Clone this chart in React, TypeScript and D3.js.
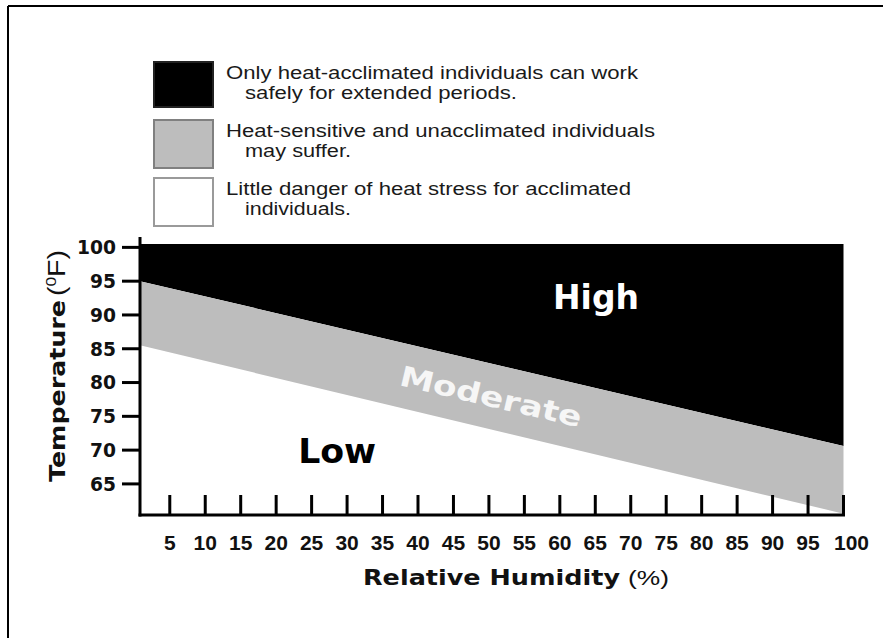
import React from "react";
import * as d3 from "d3";

// ---- data ----
const humidityTicks = [5, 10, 15, 20, 25, 30, 35, 40, 45, 50, 55, 60, 65, 70, 75, 80, 85, 90, 95, 100];
const temperatureTicks = [65, 70, 75, 80, 85, 90, 95, 100];
const boundaryHumidity = [0.8, 100];
const highModerateBoundary = [95, 70.6];
const moderateLowBoundary = [85.5, 60.6];
const humidityDomain = [0.8, 100];
const temperatureDomain = [60.4, 100.5];

const legendLabels = [
  ["Only heat-acclimated individuals can work", "safely for extended periods."],
  ["Heat-sensitive and unacclimated individuals", "may suffer."],
  ["Little danger of heat stress for acclimated", "individuals."],
];
const legendFills = ["#000000", "#bdbdbd", "#ffffff"];
const legendStrokes = ["#222222", "#808080", "#9a9a9a"];

const zoneNames = ["High", "Low"];
const zoneHumidity = [65.1, 28.6];
const zoneTemperature = [90.9, 68.05];

const BOLD = "'DejaVu Sans', Verdana, sans-serif";
const REG = "'Liberation Sans', Arial, Helvetica, sans-serif";

export default function App() {
  const W = 883;
  const H = 638;
  const x = d3.scaleLinear().domain(humidityDomain).range([140, 843.5]);
  const y = d3.scaleLinear().domain(temperatureDomain).range([515, 244]);

  const pts = boundaryHumidity.map((h, i) => ({
    h,
    up: highModerateBoundary[i],
    lo: moderateLowBoundary[i],
  }));

  const highArea = d3
    .area<any>()
    .x((d) => x(d.h))
    .y0((d) => y(d.up))
    .y1(() => y(temperatureDomain[1]));
  const modArea = d3
    .area<any>()
    .x((d) => x(d.h))
    .y0((d) => y(d.lo))
    .y1((d) => y(d.up));

  const angle =
    (Math.atan2(
      y(highModerateBoundary[1]) - y(highModerateBoundary[0]),
      x(boundaryHumidity[1]) - x(boundaryHumidity[0])
    ) *
      180) /
    Math.PI;
  const modH = 50.3;
  const frac = (modH - boundaryHumidity[0]) / (boundaryHumidity[1] - boundaryHumidity[0]);
  const upAt = highModerateBoundary[0] + (highModerateBoundary[1] - highModerateBoundary[0]) * frac;
  const loAt = moderateLowBoundary[0] + (moderateLowBoundary[1] - moderateLowBoundary[0]) * frac;
  const modX = x(modH);
  const modY = y((upAt + loAt) / 2);

  const legendTop = [62, 120, 178];
  const legendH = [45, 48, 48];
  const line1Len = [412, 429, 405];
  const line2Len = [272, 106, 106];

  return (
    <svg width={W} height={H} style={{ display: "block", position: "absolute", left: 0, top: 0 }}>
      <rect x={0} y={0} width={W} height={H} fill="#ffffff" />
      {/* outer frame (left & top) */}
      <line x1={8} y1={6} x2={W} y2={6} stroke="#000" strokeWidth={2} />
      <line x1={8} y1={6} x2={8} y2={H} stroke="#000" strokeWidth={2} />

      {/* legend */}
      {legendLabels.map((lines, i) => (
        <g key={i}>
          <rect
            x={154}
            y={legendTop[i]}
            width={59}
            height={legendH[i]}
            fill={legendFills[i]}
            stroke={legendStrokes[i]}
            strokeWidth={2}
          />
          <text
            x={226}
            y={legendTop[i] + 17}
            fontFamily={REG}
            fontSize={17.5}
            fill="#1a1a1a"
            textLength={line1Len[i]}
            lengthAdjust="spacingAndGlyphs"
          >
            {lines[0]}
          </text>
          <text
            x={245}
            y={legendTop[i] + 37}
            fontFamily={REG}
            fontSize={17.5}
            fill="#1a1a1a"
            textLength={line2Len[i]}
            lengthAdjust="spacingAndGlyphs"
          >
            {lines[1]}
          </text>
        </g>
      ))}

      {/* zones */}
      <path d={highArea(pts) || ""} fill="#000" />
      <path d={modArea(pts) || ""} fill="#bdbdbd" />

      {/* zone labels */}
      <text
        x={x(zoneHumidity[0])}
        y={y(zoneTemperature[0])}
        textAnchor="middle"
        fontFamily={BOLD}
        fontWeight="bold"
        fontSize={33}
        fill="#fff"
        textLength={86}
        lengthAdjust="spacingAndGlyphs"
      >
        {zoneNames[0]}
      </text>
      <text
        x={x(zoneHumidity[1])}
        y={y(zoneTemperature[1])}
        textAnchor="middle"
        fontFamily={BOLD}
        fontWeight="bold"
        fontSize={33}
        fill="#000"
        textLength={78}
        lengthAdjust="spacingAndGlyphs"
      >
        {zoneNames[1]}
      </text>
      <text
        transform={`translate(${modX},${modY}) rotate(${angle})`}
        textAnchor="middle"
        dy="0.36em"
        fontFamily={BOLD}
        fontWeight="bold"
        fontSize={28}
        fill="#f6f6f6"
        textLength={186}
        lengthAdjust="spacingAndGlyphs"
      >
        Moderate
      </text>

      {/* axes */}
      <line x1={140} y1={237} x2={140} y2={516.5} stroke="#000" strokeWidth={3} />
      <line x1={138.5} y1={515} x2={845} y2={515} stroke="#000" strokeWidth={3} />
      {temperatureTicks.map((t) => (
        <g key={t}>
          <line x1={122} x2={140} y1={y(t)} y2={y(t)} stroke="#000" strokeWidth={3} />
          <text
            x={116}
            y={y(t)}
            dy="0.36em"
            textAnchor="end"
            fontFamily={BOLD}
            fontWeight="bold"
            fontSize={19}
            fill="#111"
            textLength={String(t).length * 13}
            lengthAdjust="spacingAndGlyphs"
          >
            {t}
          </text>
        </g>
      ))}
      {humidityTicks.map((h, i) => (
        <g key={h}>
          <line x1={x(h)} x2={x(h)} y1={515} y2={495} stroke="#000" strokeWidth={3} />
          <text
            x={x(h) + (i === humidityTicks.length - 1 ? 8 : 0)}
            y={550}
            textAnchor="middle"
            fontFamily={REG}
            fontWeight="bold"
            fontSize={21}
            fill="#111"
          >
            {h}
          </text>
        </g>
      ))}

      {/* axis titles */}
      <text
        x={363}
        y={585}
        fontFamily={BOLD}
        fontWeight="bold"
        fontSize={21}
        fill="#111"
        textLength={257}
        lengthAdjust="spacingAndGlyphs"
      >
        Relative Humidity
      </text>
      <text
        x={628}
        y={585}
        fontFamily={REG}
        fontSize={21}
        fill="#111"
        textLength={41}
        lengthAdjust="spacingAndGlyphs"
      >
        (%)
      </text>
      <text
        transform="translate(65,482) rotate(-90)"
        fontFamily={BOLD}
        fontWeight="bold"
        fontSize={21}
        fill="#111"
        textLength={182}
        lengthAdjust="spacingAndGlyphs"
      >
        Temperature
      </text>
      <text
        transform="translate(65,296) rotate(-90)"
        fontFamily={REG}
        fontSize={23}
        fill="#111"
        textLength={46}
        lengthAdjust="spacingAndGlyphs"
      >
        <tspan>(</tspan>
        <tspan fontSize={14} dy={-9}>0</tspan>
        <tspan dy={9}>F)</tspan>
      </text>
    </svg>
  );
}
